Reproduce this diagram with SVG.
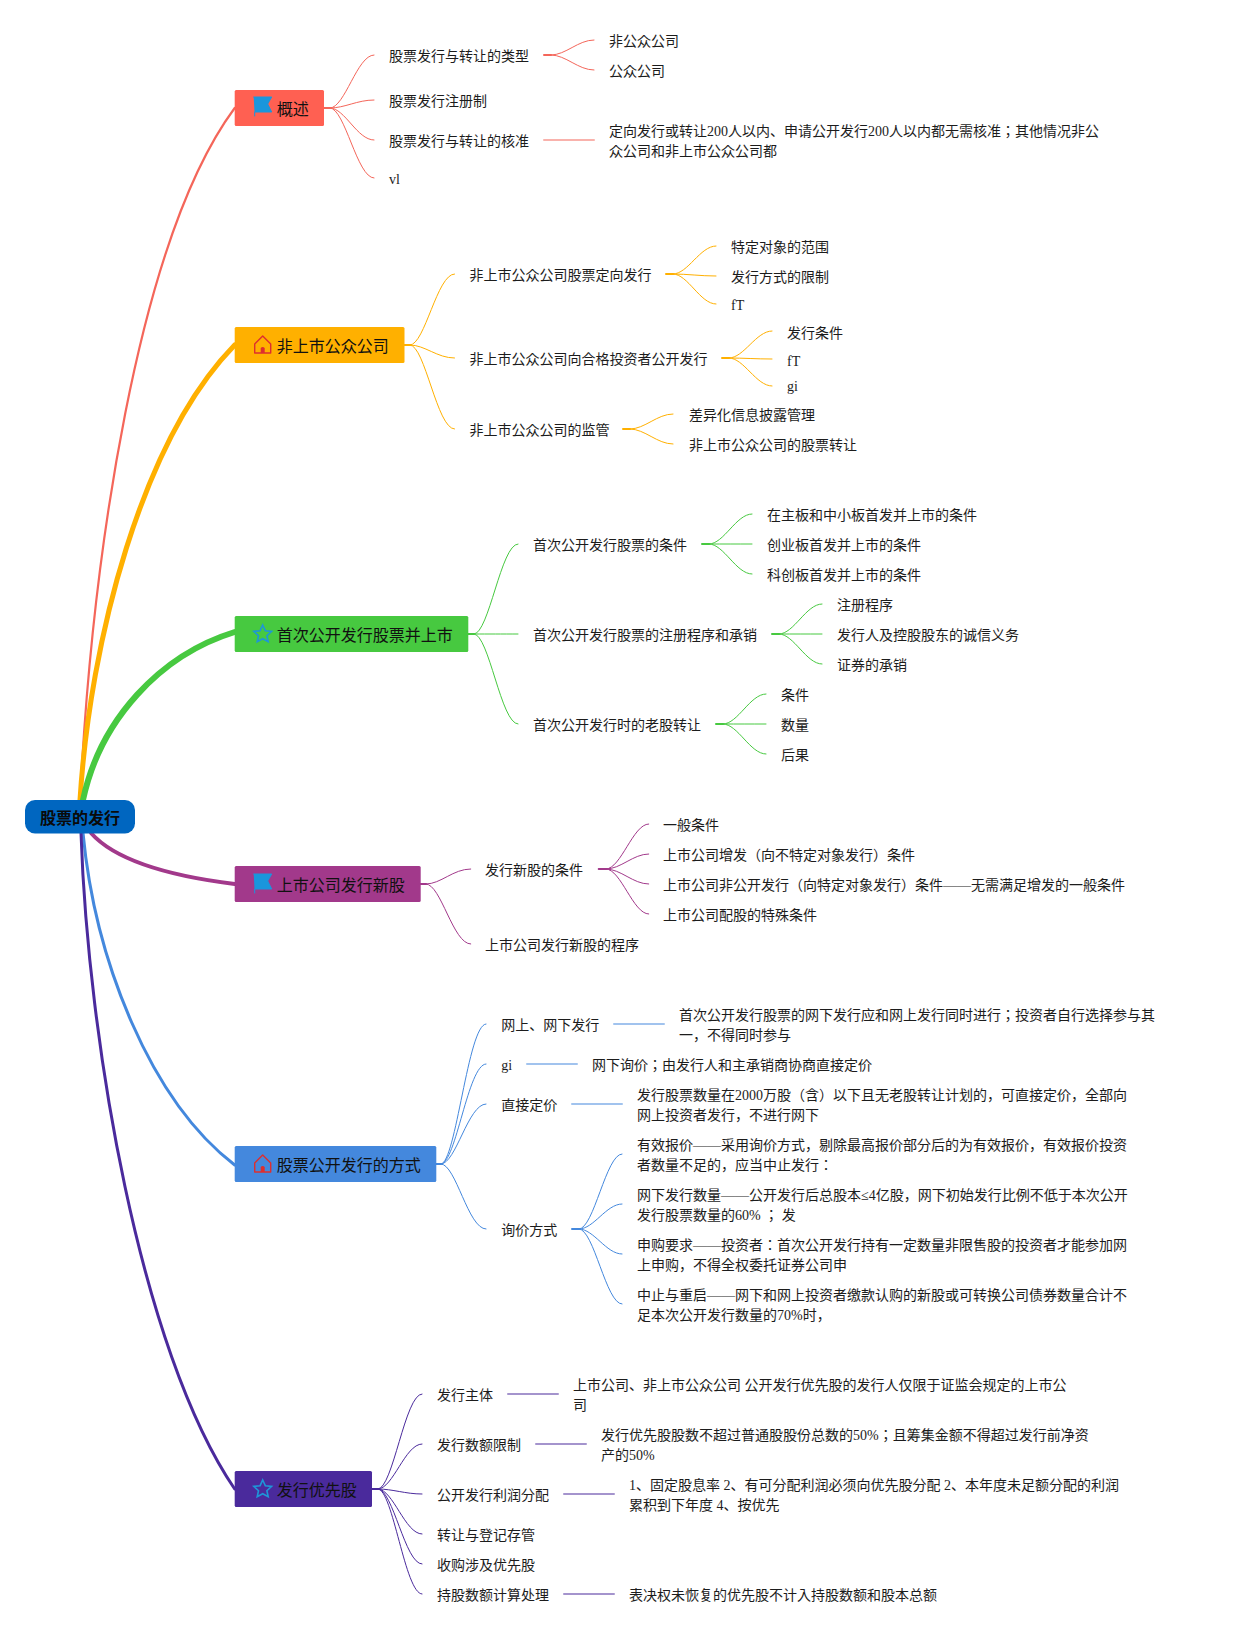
<svg xmlns="http://www.w3.org/2000/svg" width="1239" height="1634" viewBox="0 0 1239 1634">
<style>
text{font-family:"Liberation Serif","Noto Sans CJK JP",serif;font-size:14px;fill:#1c1c1c}
.n text{font-size:16px;fill:#111}
.r text{font-weight:700;fill:#0a0a0a}
path{fill:none;stroke-linecap:round}
.c1{stroke:#f4665a}.c2{stroke:#ffb000}.c3{stroke:#47c940}.c4{stroke:#a2398b}.c5{stroke:#4488dd}.c6{stroke:#4a2a9c}
.t{stroke-width:1}
.b{stroke-width:2;opacity:.5}
.s{stroke-width:2}
</style>
<defs>
<g id="flag"><path d="M1 -9H19L15 -2L19 6H2V10" style="fill:#1a96dc;stroke:#1a96dc;stroke-width:1"/></g>
<g id="house"><path d="M1 -1L9 -9L17 -1V8H1Z" style="stroke:#dd2f2f;stroke-width:1.4;stroke-linejoin:round"/><path d="M7 8V3Q9 1 11 3V8Z" style="fill:#dd2f2f;stroke:none"/></g>
<path id="star" d="M10 -9L12.6 -3.3L18.9 -2.6L14.2 1.7L15.500 7.800L10 4.700L4.500 7.800L5.800 1.700L1.100 -2.600L7.400 -3.300Z" style="stroke:#1e96d8;stroke-width:1.6;stroke-linejoin:miter"/>
</defs>

<g id="connectors">
<path class="c1" stroke-width="2.200" d="M80 800C92 560 137 240 234.700 108"/>
<path class="c2" stroke-width="5" d="M80 800C90 640 142 440 234.700 345"/>
<path class="c3" stroke-width="6" d="M83 800C100 720 160 655 234.700 632"/>
<path class="c4" stroke-width="4" d="M91 833C115 860 170 876 234.700 884"/>
<path class="c5" stroke-width="3" d="M83 833C95 960 150 1100 234.700 1165"/>
<path class="c6" stroke-width="3" d="M81 833C88 1040 140 1350 234.700 1489"/>

<g class="c1">
<path class="c1 s" d="M324 108H330M544 55H551"/>
<path class="c1 t" d="M330 108C345 108 357 55 374 55M330 108C345 108 357 100 374 100M330 108C345 108 357 140 374 140M330 108C345 108 357 178 374 178"/>
<path class="c1 t" d="M551 55C566 55 578 40 594 40M551 55C566 55 578 70 594 70"/>
<path class="c1 b" d="M544 140H594"/>
</g>
<g class="c2">
<path class="c2 s" d="M404.500 345H410M666 274H673M722 358H729M623 429H630"/>
<path class="c2 t" d="M410 345C425 345 437 274 454.500 274M410 345C425 345 437 358 454.500 358M410 345C425 345 437 429 454.500 429"/>
<path class="c2 t" d="M673 274C688 274 700 246 716 246M673 274C688 274 700 276 716 276M673 274C688 274 700 304 716 304"/>
<path class="c2 t" d="M729 358C744 358 756 331 772 331M729 358C744 358 756 359 772 359M729 358C744 358 756 386 772 386"/>
<path class="c2 t" d="M630 429C645 429 657 414 673 414M630 429C645 429 657 444 673 444"/>
</g>
<g class="c3">
<path class="c3 s" d="M468.300 634H474M702 544H709M772 634H779M716 724H723"/>
<path class="c3 t" d="M474 634C489 634 501 544 518 544M474 634C489 634 501 634 518 634M474 634C489 634 501 724 518 724"/>
<path class="c3 t" d="M709 544C724 544 736 514 752 514M709 544C724 544 736 544 752 544M709 544C724 544 736 574 752 574"/>
<path class="c3 t" d="M779 634C794 634 806 604 822 604M779 634C794 634 806 634 822 634M779 634C794 634 806 664 822 664"/>
<path class="c3 t" d="M723 724C738 724 750 694 766 694M723 724C738 724 750 724 766 724M723 724C738 724 750 754 766 754"/>
</g>
<g class="c4">
<path class="c4 s" d="M420.700 884H426M598.700 869H606"/>
<path class="c4 t" d="M426 884C441 884 453 869 470.700 869M426 884C441 884 453 944 470.700 944"/>
<path class="c4 t" d="M606 869C621 869 633 824 648.700 824M606 869C621 869 633 854 648.700 854M606 869C621 869 633 884 648.700 884M606 869C621 869 633 914 648.700 914"/>
</g>
<g class="c5">
<path class="c5 s" d="M436.300 1164H441M572 1229H579"/>
<path class="c5 t" d="M441 1164C456 1164 468 1024 486 1024M441 1164C456 1164 468 1064 486 1064M441 1164C456 1164 468 1104 486 1104M441 1164C456 1164 468 1229 486 1229"/>
<path class="c5 b" d="M614 1024H664M527 1064H577M572 1104H622"/>
<path class="c5 t" d="M579 1229C594 1229 606 1154 622 1154M579 1229C594 1229 606 1204 622 1204M579 1229C594 1229 606 1254 622 1254M579 1229C594 1229 606 1304 622 1304"/>
</g>
<g class="c6">
<path class="c6 s" d="M372 1489H378"/>
<path class="c6 t" d="M378 1489C393 1489 405 1394 422 1394M378 1489C393 1489 405 1444 422 1444M378 1489C393 1489 405 1494 422 1494M378 1489C393 1489 405 1534 422 1534M378 1489C393 1489 405 1564 422 1564M378 1489C393 1489 405 1594 422 1594"/>
<path class="c6 b" d="M508 1394H558M536 1444H586M564 1494H614M564 1594H614"/>
</g>
</g>

<g id="root" class="n r"><rect x="25" y="800" width="110" height="33.500" rx="10" fill="#0066c0"/><text x="40" y="824">股票的发行</text></g>

<g id="b1" class="n"><rect x="234.700" y="90" width="89.300" height="36" rx="1.500" fill="#ff6052"/><use href="#flag" x="252.700" y="106"/><text x="276.700" y="115">概述</text></g>
<g id="b2" class="n"><rect x="234.700" y="327" width="169.800" height="36" rx="1.500" fill="#ffb000"/><use href="#house" x="253.700" y="345"/><text x="276.700" y="352">非上市公众公司</text></g>
<g id="b3" class="n"><rect x="234.700" y="616" width="233.600" height="36" rx="1.500" fill="#47c940"/><use href="#star" x="252.700" y="634"/><text x="276.700" y="641">首次公开发行股票并上市</text></g>
<g id="b4" class="n"><rect x="234.700" y="866" width="186" height="36" rx="1.500" fill="#a2398b"/><use href="#flag" x="252.700" y="883"/><text x="276.700" y="891">上市公司发行新股</text></g>
<g id="b5" class="n"><rect x="234.700" y="1146" width="201.600" height="36" rx="1.500" fill="#4488dd"/><use href="#house" x="253.700" y="1164"/><text x="276.700" y="1171">股票公开发行的方式</text></g>
<g id="b6" class="n"><rect x="234.700" y="1471" width="137.300" height="36" rx="1.500" fill="#4a2a9c"/><use href="#star" x="252.700" y="1489"/><text x="276.700" y="1496">发行优先股</text></g>

<g id="n1"><text x="389" y="61">股票发行与转让的类型</text></g>
<g id="n1a"><text x="609" y="46">非公众公司</text></g>
<g id="n1b"><text x="609" y="76">公众公司</text></g>
<g id="n2"><text x="389" y="106">股票发行注册制</text></g>
<g id="n3"><text x="389" y="146">股票发行与转让的核准</text></g>
<g id="n3a"><text x="609" y="136">定向发行或转让200人以内、申请公开发行200人以内都无需核准；其他情况非公</text><text x="609" y="156">众公司和非上市公众公司都</text></g>
<g id="n4"><text x="389" y="184">vl</text></g>

<g id="n5"><text x="469.500" y="280">非上市公众公司股票定向发行</text></g>
<g id="n5a"><text x="731" y="252">特定对象的范围</text></g>
<g id="n5b"><text x="731" y="282">发行方式的限制</text></g>
<g id="n5c"><text x="731" y="310">fT</text></g>
<g id="n6"><text x="469.500" y="364">非上市公众公司向合格投资者公开发行</text></g>
<g id="n6a"><text x="787" y="338">发行条件</text></g>
<g id="n6b"><text x="787" y="366">fT</text></g>
<g id="n6c"><text x="787" y="391">gi</text></g>
<g id="n7"><text x="469.500" y="435">非上市公众公司的监管</text></g>
<g id="n7a"><text x="689" y="420">差异化信息披露管理</text></g>
<g id="n7b"><text x="689" y="450">非上市公众公司的股票转让</text></g>

<g id="n8"><text x="533" y="550">首次公开发行股票的条件</text></g>
<g id="n8a"><text x="767" y="520">在主板和中小板首发并上市的条件</text></g>
<g id="n8b"><text x="767" y="550">创业板首发并上市的条件</text></g>
<g id="n8c"><text x="767" y="580">科创板首发并上市的条件</text></g>
<g id="n9"><text x="533" y="640">首次公开发行股票的注册程序和承销</text></g>
<g id="n9a"><text x="837" y="610">注册程序</text></g>
<g id="n9b"><text x="837" y="640">发行人及控股股东的诚信义务</text></g>
<g id="n9c"><text x="837" y="670">证券的承销</text></g>
<g id="n10"><text x="533" y="730">首次公开发行时的老股转让</text></g>
<g id="n10a"><text x="781" y="700">条件</text></g>
<g id="n10b"><text x="781" y="730">数量</text></g>
<g id="n10c"><text x="781" y="760">后果</text></g>

<g id="n11"><text x="485" y="875">发行新股的条件</text></g>
<g id="n11a"><text x="663" y="830">一般条件</text></g>
<g id="n11b"><text x="663" y="860">上市公司增发（向不特定对象发行）条件</text></g>
<g id="n11c"><text x="663" y="890">上市公司非公开发行（向特定对象发行）条件——无需满足增发的一般条件</text></g>
<g id="n11d"><text x="663" y="920">上市公司配股的特殊条件</text></g>
<g id="n12"><text x="485" y="950">上市公司发行新股的程序</text></g>

<g id="n13"><text x="501.300" y="1030">网上、网下发行</text></g>
<g id="n13a"><text x="679" y="1020">首次公开发行股票的网下发行应和网上发行同时进行；投资者自行选择参与其</text><text x="679" y="1040">一，不得同时参与</text></g>
<g id="n14"><text x="501.300" y="1070">gi</text></g>
<g id="n14a"><text x="592" y="1070">网下询价；由发行人和主承销商协商直接定价</text></g>
<g id="n15"><text x="501.300" y="1110">直接定价</text></g>
<g id="n15a"><text x="637" y="1100">发行股票数量在2000万股（含）以下且无老股转让计划的，可直接定价，全部向</text><text x="637" y="1120">网上投资者发行，不进行网下</text></g>
<g id="n16"><text x="501.300" y="1235">询价方式</text></g>
<g id="n16a"><text x="637" y="1150">有效报价——采用询价方式，剔除最高报价部分后的为有效报价，有效报价投资</text><text x="637" y="1170">者数量不足的，应当中止发行：</text></g>
<g id="n16b"><text x="637" y="1200">网下发行数量——公开发行后总股本≤4亿股，网下初始发行比例不低于本次公开</text><text x="637" y="1220" xml:space="preserve">发行股票数量的60% ； 发</text></g>
<g id="n16c"><text x="637" y="1250">申购要求——投资者：首次公开发行持有一定数量非限售股的投资者才能参加网</text><text x="637" y="1270">上申购，不得全权委托证券公司申</text></g>
<g id="n16d"><text x="637" y="1300">中止与重启——网下和网上投资者缴款认购的新股或可转换公司债券数量合计不</text><text x="637" y="1320">足本次公开发行数量的70%时，</text></g>

<g id="n17"><text x="437" y="1400">发行主体</text></g>
<g id="n17a"><text x="573" y="1390">上市公司、非上市公众公司 公开发行优先股的发行人仅限于证监会规定的上市公</text><text x="573" y="1410">司</text></g>
<g id="n18"><text x="437" y="1450">发行数额限制</text></g>
<g id="n18a"><text x="601" y="1440">发行优先股股数不超过普通股股份总数的50%；且筹集金额不得超过发行前净资</text><text x="601" y="1460">产的50%</text></g>
<g id="n19"><text x="437" y="1500">公开发行利润分配</text></g>
<g id="n19a"><text x="629" y="1490">1、固定股息率 2、有可分配利润必须向优先股分配 2、本年度未足额分配的利润</text><text x="629" y="1510">累积到下年度 4、按优先</text></g>
<g id="n20"><text x="437" y="1540">转让与登记存管</text></g>
<g id="n21"><text x="437" y="1570">收购涉及优先股</text></g>
<g id="n22"><text x="437" y="1600">持股数额计算处理</text></g>
<g id="n22a"><text x="629" y="1600">表决权未恢复的优先股不计入持股数额和股本总额</text></g>
</svg>
